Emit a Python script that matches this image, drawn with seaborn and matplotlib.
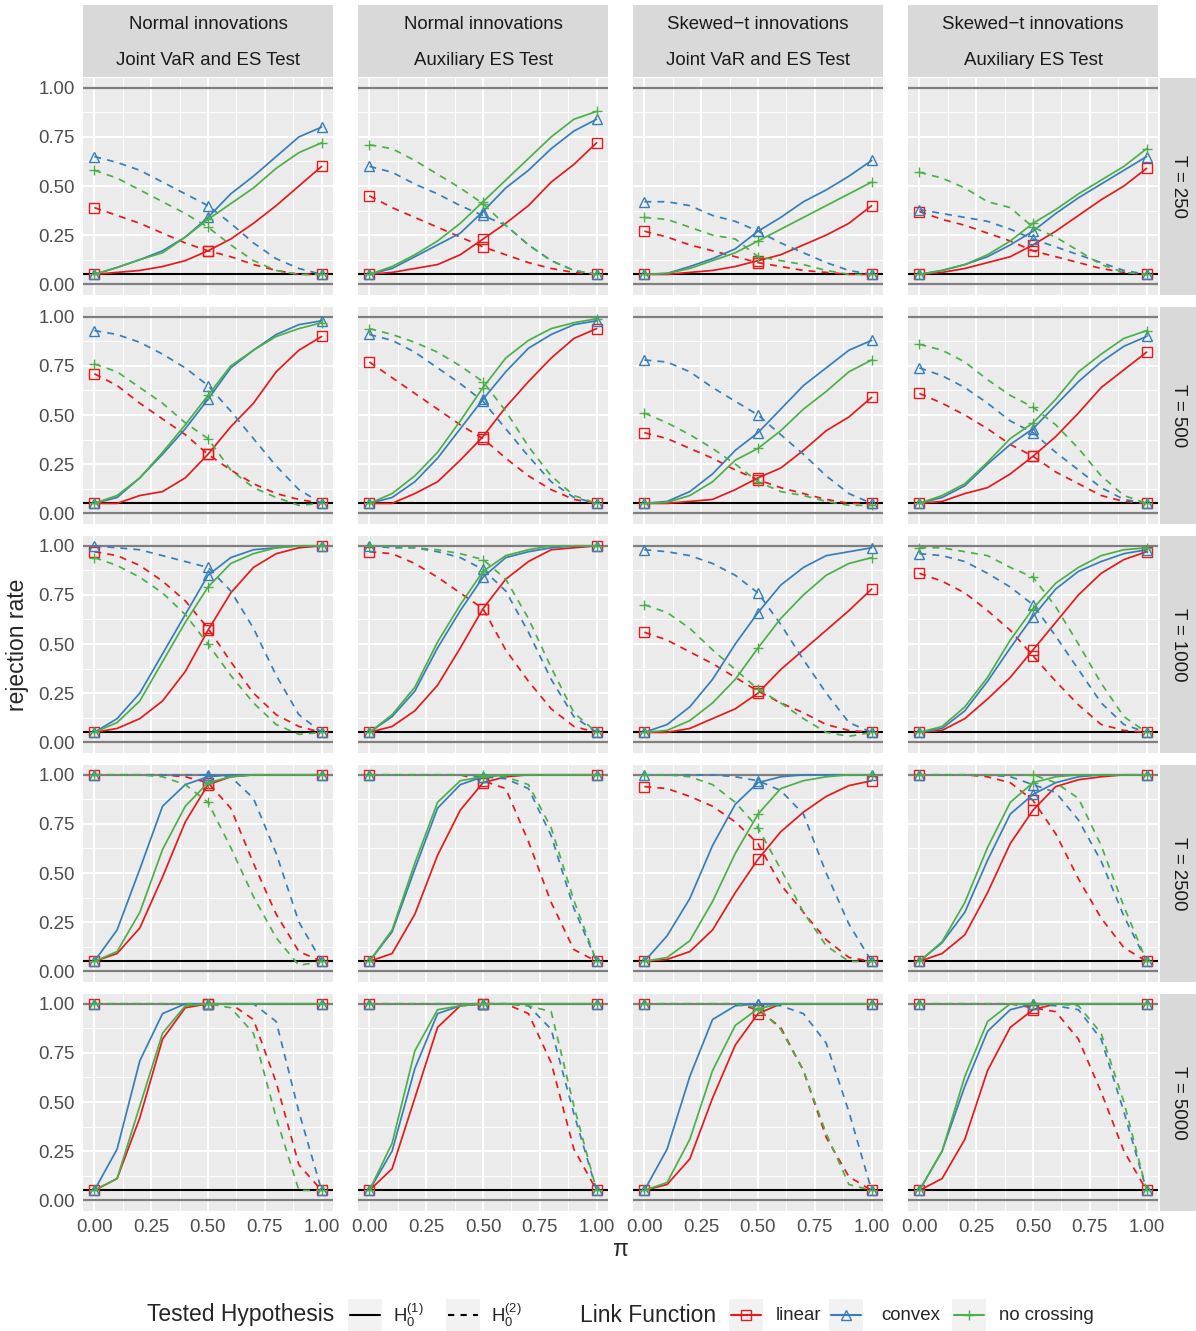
import pandas as pd
import seaborn as sns
import matplotlib.pyplot as plt
from matplotlib.markers import MarkerStyle

# ---- data -------------------------------------------------------------
PI = [0.0, 0.1, 0.2, 0.3, 0.4, 0.5, 0.6, 0.7, 0.8, 0.9, 1.0]
LINKS = ["linear", "convex", "no crossing"]
HYPS = ["H1", "H2"]
SAMPLE_SIZES = [250, 500, 1000, 2500, 5000]
COL_TITLES = [("Normal innovations", "Joint VaR and ES Test"),
              ("Normal innovations", "Auxiliary ES Test"),
              ("Skewed\u2212t innovations", "Joint VaR and ES Test"),
              ("Skewed\u2212t innovations", "Auxiliary ES Test")]

# each panel: linear H1, convex H1, no crossing H1, linear H2, convex H2, no crossing H2
nj_250 = [[0.05, 0.06, 0.07, 0.09, 0.12, 0.17, 0.23, 0.31, 0.40, 0.50, 0.60],
          [0.05, 0.085, 0.125, 0.17, 0.24, 0.34, 0.46, 0.55, 0.65, 0.75, 0.80],
          [0.05, 0.085, 0.125, 0.16, 0.24, 0.33, 0.41, 0.49, 0.59, 0.67, 0.72],
          [0.39, 0.35, 0.31, 0.26, 0.21, 0.17, 0.14, 0.10, 0.07, 0.05, 0.05],
          [0.65, 0.62, 0.58, 0.52, 0.46, 0.40, 0.31, 0.21, 0.13, 0.08, 0.05],
          [0.58, 0.54, 0.48, 0.42, 0.36, 0.29, 0.20, 0.12, 0.07, 0.05, 0.05]]
na_250 = [[0.05, 0.06, 0.08, 0.10, 0.15, 0.23, 0.31, 0.40, 0.52, 0.61, 0.72],
          [0.05, 0.08, 0.14, 0.20, 0.26, 0.37, 0.49, 0.58, 0.69, 0.78, 0.84],
          [0.05, 0.09, 0.15, 0.22, 0.31, 0.42, 0.53, 0.64, 0.75, 0.84, 0.88],
          [0.45, 0.39, 0.34, 0.29, 0.24, 0.19, 0.15, 0.11, 0.08, 0.06, 0.05],
          [0.60, 0.57, 0.51, 0.46, 0.40, 0.35, 0.30, 0.20, 0.12, 0.07, 0.05],
          [0.71, 0.69, 0.63, 0.56, 0.49, 0.41, 0.30, 0.20, 0.12, 0.07, 0.05]]
sj_250 = [[0.05, 0.05, 0.06, 0.07, 0.09, 0.12, 0.15, 0.20, 0.25, 0.31, 0.40],
          [0.05, 0.055, 0.09, 0.13, 0.18, 0.27, 0.34, 0.42, 0.48, 0.55, 0.63],
          [0.05, 0.055, 0.08, 0.12, 0.16, 0.22, 0.28, 0.34, 0.40, 0.46, 0.52],
          [0.27, 0.24, 0.20, 0.17, 0.14, 0.11, 0.09, 0.07, 0.06, 0.05, 0.05],
          [0.42, 0.42, 0.40, 0.35, 0.32, 0.27, 0.21, 0.16, 0.11, 0.07, 0.05],
          [0.34, 0.33, 0.29, 0.25, 0.23, 0.14, 0.12, 0.10, 0.07, 0.05, 0.05]]
sa_250 = [[0.05, 0.06, 0.08, 0.11, 0.14, 0.20, 0.27, 0.35, 0.43, 0.50, 0.59],
          [0.05, 0.07, 0.10, 0.14, 0.20, 0.27, 0.36, 0.44, 0.51, 0.58, 0.65],
          [0.05, 0.07, 0.10, 0.15, 0.22, 0.31, 0.38, 0.46, 0.53, 0.60, 0.69],
          [0.37, 0.33, 0.30, 0.26, 0.22, 0.17, 0.14, 0.11, 0.08, 0.06, 0.05],
          [0.38, 0.36, 0.34, 0.32, 0.28, 0.23, 0.19, 0.15, 0.11, 0.07, 0.05],
          [0.57, 0.54, 0.49, 0.42, 0.39, 0.29, 0.24, 0.17, 0.10, 0.06, 0.05]]

nj_500 = [[0.05, 0.05, 0.09, 0.11, 0.18, 0.30, 0.44, 0.56, 0.72, 0.83, 0.90],
          [0.05, 0.08, 0.18, 0.30, 0.43, 0.58, 0.74, 0.83, 0.91, 0.96, 0.98],
          [0.05, 0.09, 0.18, 0.31, 0.45, 0.60, 0.75, 0.83, 0.90, 0.94, 0.97],
          [0.71, 0.65, 0.56, 0.48, 0.40, 0.30, 0.22, 0.15, 0.10, 0.07, 0.05],
          [0.93, 0.91, 0.87, 0.81, 0.74, 0.65, 0.52, 0.38, 0.24, 0.12, 0.05],
          [0.76, 0.72, 0.64, 0.56, 0.46, 0.38, 0.22, 0.13, 0.08, 0.04, 0.05]]
na_500 = [[0.05, 0.05, 0.10, 0.16, 0.27, 0.39, 0.54, 0.67, 0.79, 0.89, 0.94],
          [0.05, 0.08, 0.16, 0.28, 0.43, 0.58, 0.72, 0.84, 0.91, 0.96, 0.98],
          [0.05, 0.10, 0.19, 0.31, 0.47, 0.64, 0.79, 0.88, 0.94, 0.97, 0.99],
          [0.77, 0.69, 0.61, 0.53, 0.45, 0.38, 0.28, 0.19, 0.12, 0.07, 0.05],
          [0.91, 0.88, 0.82, 0.74, 0.66, 0.57, 0.43, 0.29, 0.16, 0.08, 0.05],
          [0.94, 0.91, 0.87, 0.82, 0.75, 0.67, 0.52, 0.34, 0.19, 0.09, 0.05]]
sj_500 = [[0.05, 0.05, 0.06, 0.07, 0.12, 0.18, 0.23, 0.32, 0.42, 0.49, 0.59],
          [0.05, 0.06, 0.11, 0.20, 0.32, 0.41, 0.53, 0.65, 0.74, 0.83, 0.88],
          [0.05, 0.055, 0.09, 0.16, 0.27, 0.33, 0.42, 0.53, 0.62, 0.72, 0.78],
          [0.41, 0.38, 0.33, 0.28, 0.22, 0.17, 0.13, 0.10, 0.07, 0.05, 0.05],
          [0.78, 0.77, 0.72, 0.64, 0.57, 0.50, 0.40, 0.30, 0.19, 0.10, 0.05],
          [0.51, 0.46, 0.40, 0.33, 0.25, 0.16, 0.11, 0.09, 0.06, 0.04, 0.04]]
sa_500 = [[0.05, 0.06, 0.10, 0.13, 0.20, 0.29, 0.39, 0.51, 0.64, 0.73, 0.82],
          [0.05, 0.08, 0.14, 0.25, 0.35, 0.43, 0.55, 0.67, 0.77, 0.85, 0.90],
          [0.05, 0.09, 0.15, 0.26, 0.38, 0.46, 0.58, 0.72, 0.81, 0.89, 0.93],
          [0.61, 0.56, 0.50, 0.43, 0.35, 0.29, 0.21, 0.15, 0.09, 0.06, 0.05],
          [0.74, 0.70, 0.64, 0.56, 0.47, 0.41, 0.31, 0.22, 0.13, 0.07, 0.05],
          [0.86, 0.83, 0.77, 0.68, 0.60, 0.54, 0.45, 0.33, 0.19, 0.09, 0.05]]

nj_1000 = [[0.05, 0.07, 0.12, 0.21, 0.36, 0.57, 0.76, 0.89, 0.96, 0.99, 1.00],
           [0.05, 0.12, 0.25, 0.45, 0.65, 0.85, 0.94, 0.98, 0.99, 1.00, 1.00],
           [0.05, 0.10, 0.21, 0.41, 0.61, 0.79, 0.91, 0.96, 0.99, 1.00, 1.00],
           [0.97, 0.95, 0.90, 0.82, 0.72, 0.58, 0.41, 0.25, 0.14, 0.08, 0.05],
           [1.00, 0.99, 0.98, 0.95, 0.92, 0.89, 0.77, 0.58, 0.34, 0.14, 0.05],
           [0.94, 0.90, 0.84, 0.76, 0.65, 0.50, 0.34, 0.20, 0.09, 0.04, 0.05]]
na_1000 = [[0.05, 0.08, 0.16, 0.29, 0.48, 0.68, 0.83, 0.92, 0.98, 0.99, 1.00],
           [0.05, 0.13, 0.26, 0.48, 0.67, 0.84, 0.94, 0.97, 0.99, 1.00, 1.00],
           [0.05, 0.14, 0.28, 0.51, 0.70, 0.87, 0.95, 0.98, 1.00, 1.00, 1.00],
           [0.97, 0.96, 0.91, 0.84, 0.76, 0.68, 0.47, 0.31, 0.17, 0.08, 0.05],
           [1.00, 0.99, 0.99, 0.97, 0.94, 0.88, 0.77, 0.56, 0.32, 0.13, 0.05],
           [1.00, 1.00, 0.99, 0.98, 0.96, 0.93, 0.83, 0.63, 0.38, 0.15, 0.05]]
sj_1000 = [[0.05, 0.05, 0.07, 0.12, 0.17, 0.25, 0.37, 0.47, 0.57, 0.67, 0.78],
           [0.05, 0.09, 0.18, 0.32, 0.50, 0.66, 0.80, 0.89, 0.95, 0.97, 0.99],
           [0.05, 0.06, 0.11, 0.20, 0.32, 0.48, 0.63, 0.75, 0.85, 0.91, 0.94],
           [0.56, 0.52, 0.46, 0.40, 0.33, 0.26, 0.20, 0.15, 0.09, 0.06, 0.05],
           [0.98, 0.97, 0.95, 0.91, 0.85, 0.76, 0.60, 0.42, 0.25, 0.10, 0.05],
           [0.70, 0.66, 0.58, 0.47, 0.37, 0.27, 0.20, 0.12, 0.05, 0.03, 0.05]]
sa_1000 = [[0.05, 0.06, 0.12, 0.22, 0.33, 0.47, 0.61, 0.75, 0.86, 0.93, 0.97],
           [0.05, 0.07, 0.16, 0.31, 0.48, 0.64, 0.78, 0.87, 0.92, 0.96, 0.98],
           [0.05, 0.08, 0.18, 0.33, 0.52, 0.68, 0.81, 0.89, 0.95, 0.98, 0.99],
           [0.86, 0.82, 0.76, 0.67, 0.57, 0.44, 0.31, 0.19, 0.09, 0.06, 0.05],
           [0.96, 0.95, 0.92, 0.86, 0.79, 0.70, 0.54, 0.37, 0.20, 0.09, 0.05],
           [0.99, 0.99, 0.97, 0.95, 0.89, 0.84, 0.69, 0.50, 0.30, 0.13, 0.05]]

nj_2500 = [[0.05, 0.09, 0.22, 0.48, 0.76, 0.95, 0.99, 1.00, 1.00, 1.00, 1.00],
           [0.05, 0.21, 0.52, 0.84, 0.95, 0.99, 1.00, 1.00, 1.00, 1.00, 1.00],
           [0.05, 0.10, 0.30, 0.62, 0.84, 0.96, 0.99, 1.00, 1.00, 1.00, 1.00],
           [1.00, 1.00, 1.00, 1.00, 0.99, 0.96, 0.83, 0.55, 0.29, 0.10, 0.05],
           [1.00, 1.00, 1.00, 1.00, 1.00, 1.00, 0.99, 0.88, 0.60, 0.25, 0.05],
           [1.00, 1.00, 1.00, 0.99, 0.95, 0.86, 0.63, 0.38, 0.17, 0.03, 0.05]]
na_2500 = [[0.05, 0.09, 0.29, 0.59, 0.82, 0.96, 0.99, 1.00, 1.00, 1.00, 1.00],
           [0.05, 0.20, 0.52, 0.83, 0.95, 0.99, 1.00, 1.00, 1.00, 1.00, 1.00],
           [0.05, 0.21, 0.55, 0.86, 0.97, 0.99, 1.00, 1.00, 1.00, 1.00, 1.00],
           [1.00, 1.00, 1.00, 1.00, 1.00, 0.97, 0.93, 0.66, 0.35, 0.11, 0.05],
           [1.00, 1.00, 1.00, 1.00, 1.00, 0.99, 0.98, 0.93, 0.69, 0.32, 0.05],
           [1.00, 1.00, 1.00, 1.00, 1.00, 1.00, 0.99, 0.95, 0.73, 0.36, 0.05]]
sj_2500 = [[0.05, 0.06, 0.10, 0.21, 0.40, 0.57, 0.71, 0.81, 0.89, 0.945, 0.97],
           [0.05, 0.18, 0.37, 0.64, 0.85, 0.96, 0.99, 1.00, 1.00, 1.00, 1.00],
           [0.05, 0.07, 0.155, 0.355, 0.60, 0.80, 0.93, 0.97, 0.99, 1.00, 1.00],
           [0.94, 0.93, 0.89, 0.84, 0.76, 0.65, 0.44, 0.30, 0.16, 0.07, 0.05],
           [1.00, 1.00, 1.00, 1.00, 0.99, 0.97, 0.92, 0.80, 0.50, 0.24, 0.05],
           [1.00, 1.00, 0.99, 0.95, 0.86, 0.73, 0.52, 0.30, 0.13, 0.05, 0.05]]
sa_2500 = [[0.05, 0.09, 0.185, 0.40, 0.65, 0.82, 0.94, 0.975, 0.99, 1.00, 1.00],
           [0.05, 0.145, 0.30, 0.565, 0.80, 0.90, 0.96, 0.99, 1.00, 1.00, 1.00],
           [0.05, 0.15, 0.35, 0.63, 0.86, 0.96, 0.99, 1.00, 1.00, 1.00, 1.00],
           [1.00, 1.00, 1.00, 0.99, 0.96, 0.87, 0.70, 0.47, 0.27, 0.12, 0.05],
           [1.00, 1.00, 1.00, 1.00, 0.99, 0.95, 0.91, 0.77, 0.56, 0.28, 0.05],
           [1.00, 1.00, 1.00, 1.00, 1.00, 1.00, 0.96, 0.88, 0.64, 0.33, 0.05]]

nj_5000 = [[0.05, 0.11, 0.42, 0.82, 0.98, 1.00, 1.00, 1.00, 1.00, 1.00, 1.00],
           [0.05, 0.26, 0.71, 0.95, 1.00, 1.00, 1.00, 1.00, 1.00, 1.00, 1.00],
           [0.05, 0.11, 0.48, 0.85, 0.99, 1.00, 1.00, 1.00, 1.00, 1.00, 1.00],
           [1.00, 1.00, 1.00, 1.00, 1.00, 1.00, 1.00, 0.92, 0.60, 0.18, 0.05],
           [1.00, 1.00, 1.00, 1.00, 1.00, 1.00, 1.00, 1.00, 0.91, 0.45, 0.05],
           [1.00, 1.00, 1.00, 1.00, 1.00, 1.00, 0.98, 0.85, 0.42, 0.05, 0.05]]
na_5000 = [[0.05, 0.16, 0.52, 0.88, 0.99, 1.00, 1.00, 1.00, 1.00, 1.00, 1.00],
           [0.05, 0.25, 0.67, 0.95, 0.99, 1.00, 1.00, 1.00, 1.00, 1.00, 1.00],
           [0.05, 0.29, 0.76, 0.97, 0.99, 1.00, 1.00, 1.00, 1.00, 1.00, 1.00],
           [1.00, 1.00, 1.00, 1.00, 1.00, 1.00, 1.00, 0.95, 0.70, 0.26, 0.05],
           [1.00, 1.00, 1.00, 1.00, 1.00, 1.00, 1.00, 0.99, 0.87, 0.44, 0.05],
           [1.00, 1.00, 1.00, 1.00, 1.00, 1.00, 1.00, 0.99, 0.96, 0.48, 0.05]]
sj_5000 = [[0.05, 0.08, 0.21, 0.52, 0.79, 0.95, 1.00, 1.00, 1.00, 1.00, 1.00],
           [0.05, 0.26, 0.63, 0.92, 0.99, 1.00, 1.00, 1.00, 1.00, 1.00, 1.00],
           [0.05, 0.09, 0.31, 0.66, 0.89, 0.975, 1.00, 1.00, 1.00, 1.00, 1.00],
           [1.00, 1.00, 1.00, 1.00, 1.00, 0.97, 0.88, 0.66, 0.32, 0.12, 0.05],
           [1.00, 1.00, 1.00, 1.00, 1.00, 1.00, 0.99, 0.95, 0.80, 0.45, 0.05],
           [1.00, 1.00, 1.00, 1.00, 1.00, 0.98, 0.87, 0.66, 0.34, 0.08, 0.05]]
sa_5000 = [[0.05, 0.11, 0.31, 0.66, 0.88, 0.97, 1.00, 1.00, 1.00, 1.00, 1.00],
           [0.05, 0.25, 0.58, 0.86, 0.97, 1.00, 1.00, 1.00, 1.00, 1.00, 1.00],
           [0.05, 0.25, 0.63, 0.91, 1.00, 1.00, 1.00, 1.00, 1.00, 1.00, 1.00],
           [1.00, 1.00, 1.00, 1.00, 1.00, 0.98, 0.96, 0.82, 0.55, 0.25, 0.05],
           [1.00, 1.00, 1.00, 1.00, 1.00, 1.00, 0.99, 0.97, 0.82, 0.45, 0.05],
           [1.00, 1.00, 1.00, 1.00, 1.00, 1.00, 1.00, 0.99, 0.85, 0.50, 0.05]]

PANELS = {
    250: [nj_250, na_250, sj_250, sa_250],
    500: [nj_500, na_500, sj_500, sa_500],
    1000: [nj_1000, na_1000, sj_1000, sa_1000],
    2500: [nj_2500, na_2500, sj_2500, sa_2500],
    5000: [nj_5000, na_5000, sj_5000, sa_5000],
}

rows = []
for T, cols in PANELS.items():
    for c, series in enumerate(cols):
        for k, vals in enumerate(series):
            for p, v in zip(PI, vals):
                rows.append((T, c, p, v, LINKS[k % 3], HYPS[k // 3]))
df = pd.DataFrame(rows, columns=["T", "col", "pi", "rate", "link", "hyp"])
df["combo"] = df["link"] + " / " + df["hyp"]

# ---- styles -----------------------------------------------------------
PALETTE = {"linear": "#E41A1C", "convex": "#377EB8", "no crossing": "#4DAF4A"}
SHAPES = {"linear": "s", "convex": "^", "no crossing": "+"}
combos = [f"{l} / {h}" for h in HYPS for l in LINKS]
MARKERS = {c: MarkerStyle(SHAPES[c.split(" / ")[0]], fillstyle="none") for c in combos}
DASHES = {c: "" if c.endswith("H1") else (4, 3.5) for c in combos}

sns.set_theme(style="darkgrid")
plt.rcParams["font.family"] = ["Liberation Sans", "DejaVu Sans"]
plt.rcParams["mathtext.fontset"] = "custom"
plt.rcParams["mathtext.rm"] = "Liberation Sans"
plt.rcParams["mathtext.it"] = "Liberation Sans:italic"

W, H = 1196, 1331
fig = plt.figure(figsize=(W / 100, H / 100), dpi=100)
fig.patch.set_facecolor("white")

def rect(x, y, w, h):
    return [x / W, 1 - (y + h) / H, w / W, h / H]

col_x = [83, 358, 633, 908]
row_y = [78, 307, 536, 765, 994]
pw, ph = 250, 217
TICKS = [0, 0.25, 0.5, 0.75, 1]
MINOR = [0.125, 0.375, 0.625, 0.875]
SMALL = 13.4
BIG = 16.5

for r, T in enumerate(SAMPLE_SIZES):
    for c in range(4):
        ax = fig.add_axes(rect(col_x[c], row_y[r], pw, ph))
        ax.set_facecolor("#EBEBEB")
        for s in ax.spines.values():
            s.set_visible(False)
        ax.set_axisbelow(True)
        ax.axhline(0, color="#7F7F7F", lw=1.6, zorder=1.5)
        ax.axhline(1, color="#7F7F7F", lw=1.6, zorder=1.5)
        ax.axhline(0.05, color="black", lw=1.5, zorder=1.5)
        sub = df[(df["T"] == T) & (df["col"] == c)]
        sns.lineplot(data=sub, x="pi", y="rate", hue="link", style="combo",
                     hue_order=LINKS, style_order=combos, palette=PALETTE,
                     markers=MARKERS, dashes=DASHES, errorbar=None,
                     legend=False, ax=ax, linewidth=1.25, markersize=6.8,
                     markeredgewidth=1.0, markevery=[0, 5, 10])
        for ln in ax.get_lines():
            ln.set_markeredgecolor(ln.get_color())
        ax.set_xlim(-0.05, 1.05)
        ax.set_ylim(-0.055, 1.05)
        ax.set_xticks(TICKS)
        ax.set_yticks(TICKS)
        ax.set_xticks(MINOR, minor=True)
        ax.set_yticks(MINOR, minor=True)
        ax.set_xticklabels([f"{t:.2f}" for t in TICKS])
        ax.set_yticklabels([f"{t:.2f}" for t in TICKS])
        ax.grid(which="major", color="white", lw=1.4)
        ax.grid(which="minor", color="white", lw=0.7)
        ax.tick_params(which="minor", length=0)
        ax.tick_params(which="major", length=3, width=0.9, color="#333333",
                       labelcolor="#4D4D4D", labelsize=SMALL, pad=3)
        ax.set_xlabel("")
        ax.set_ylabel("")
        if c != 0:
            ax.tick_params(axis="y", left=False, labelleft=False)
        if r != len(SAMPLE_SIZES) - 1:
            ax.tick_params(axis="x", bottom=False, labelbottom=False)

        if c == 3:
            sax = fig.add_axes(rect(1160, row_y[r], 36, ph))
            sax.set_facecolor("#D9D9D9")
            sax.set_xticks([]); sax.set_yticks([])
            for s in sax.spines.values():
                s.set_visible(False)
            sax.text(0.5, 0.5, f"T = {T}", rotation=-90, ha="center", va="center",
                     fontsize=SMALL, color="#1A1A1A", transform=sax.transAxes)

# top strips
for c, (t1, t2) in enumerate(COL_TITLES):
    sax = fig.add_axes(rect(col_x[c], 5, pw, 72))
    sax.set_facecolor("#D9D9D9")
    sax.set_xticks([]); sax.set_yticks([])
    for s in sax.spines.values():
        s.set_visible(False)
    sax.text(0.5, 0.73, t1, ha="center", va="center", fontsize=SMALL,
             color="#1A1A1A", transform=sax.transAxes)
    sax.text(0.5, 0.23, t2, ha="center", va="center", fontsize=SMALL,
             color="#1A1A1A", transform=sax.transAxes)

fig.text(18 / W, 1 - 645 / H, "rejection rate", rotation=90, ha="center",
         va="center", fontsize=BIG)
fig.text(620 / W, 1 - 1249 / H, "\u03c0", ha="center", va="center", fontsize=BIG)

# ---- legend -----------------------------------------------------------
ly = 1315

def key(x, color, ls, marker=None):
    kax = fig.add_axes(rect(x, ly - 16, 34, 32))
    kax.set_facecolor("#F2F2F2")
    kax.set_xticks([]); kax.set_yticks([])
    for s in kax.spines.values():
        s.set_visible(False)
    kax.set_xlim(0, 1); kax.set_ylim(0, 1)
    kax.plot([0.06, 0.94], [0.5, 0.5], color=color, lw=1.5,
             dashes=(3, 3) if ls == "dashed" else (None, None))
    if marker:
        kax.plot([0.5], [0.5], marker=MarkerStyle(marker, fillstyle="none"),
                 color=color, ms=6.5, mew=1.0)

fig.text(147 / W, 1 - ly / H, "Tested Hypothesis", ha="left", va="center", fontsize=BIG)
key(348, "black", "solid")
fig.text(393 / W, 1 - ly / H, r"$\mathrm{H}_0^{(1)}$", ha="left", va="center", fontsize=SMALL)
key(446, "black", "dashed")
fig.text(491 / W, 1 - ly / H, r"$\mathrm{H}_0^{(2)}$", ha="left", va="center", fontsize=SMALL)

fig.text(580 / W, 1 - ly / H, "Link Function", ha="left", va="center", fontsize=BIG)
for x, tx, lk in [(729, 776, "linear"), (829, 881, "convex"), (952, 999, "no crossing")]:
    key(x, PALETTE[lk], "solid", SHAPES[lk])
    fig.text(tx / W, 1 - ly / H, lk, ha="left", va="center", fontsize=SMALL)

plt.savefig("out.png", dpi=100)
